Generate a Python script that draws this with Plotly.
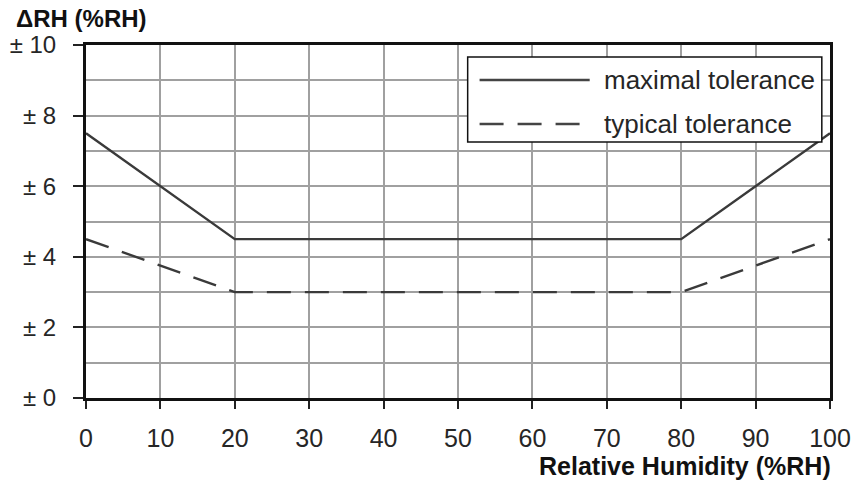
import plotly.graph_objects as go

rh = [0, 20, 80, 100]
maximal = [7.5, 4.5, 4.5, 7.5]
typical = [4.5, 3.0, 3.0, 4.5]
x_ticks = list(range(0, 101, 10))
y_ticks = [0, 2, 4, 6, 8, 10]
y_ticklabels = ["± 0", "± 2", "± 4", "± 6", "± 8", "± 10"]
series_names = ["maximal tolerance", "typical tolerance"]

FONT = "Liberation Sans, Arial, sans-serif"
LINE_COL = "#3a3a3a"
TXT = "#262626"

fig = go.Figure()
fig.add_trace(go.Scatter(x=rh, y=maximal, mode="lines", name=series_names[0],
                         line=dict(color=LINE_COL, width=2.4), showlegend=False))
fig.add_trace(go.Scatter(x=rh, y=typical, mode="lines", name=series_names[1],
                         line=dict(color=LINE_COL, width=2.4, dash="24px,14px"), showlegend=False))

fig.update_xaxes(range=[0, 100], tickvals=x_ticks, ticks="outside", ticklen=8, tickwidth=2,
                 tickcolor="#222", showline=True, linewidth=3, linecolor="#111", mirror=True,
                 showgrid=True, gridcolor="#a0a0a0", gridwidth=1.5, zeroline=False,
                 ticklabelstandoff=8, automargin=False,
                 tickfont=dict(family=FONT, size=25, color=TXT))
fig.update_yaxes(range=[0, 10], tickvals=y_ticks, ticktext=y_ticklabels, ticks="outside", ticklen=10,
                 tickwidth=2, tickcolor="#222", showline=True, linewidth=3, linecolor="#111",
                 mirror=True, showgrid=True, gridcolor="#a0a0a0", gridwidth=1.5, zeroline=False,
                 ticklabelstandoff=12, automargin=False,
                 minor=dict(dtick=1, showgrid=True, gridcolor="#a0a0a0", gridwidth=1.5, ticks=""),
                 tickfont=dict(family=FONT, size=24, color=TXT))

# manual legend
fig.add_shape(type="rect", xref="paper", yref="paper", x0=0.513, x1=0.989, y0=0.725, y1=0.966,
              line=dict(color="#111", width=1.5), fillcolor="white", layer="above")
fig.add_shape(type="line", xref="paper", yref="paper", x0=0.529, x1=0.677, y0=0.901, y1=0.901,
              line=dict(color="#444", width=2.4), layer="above")
fig.add_shape(type="line", xref="paper", yref="paper", x0=0.529, x1=0.677, y0=0.776, y1=0.776,
              line=dict(color="#444", width=2.4, dash="24px,14px"), layer="above")
fig.add_annotation(xref="paper", yref="paper", x=0.693, y=0.901, text=series_names[0],
                   showarrow=False, xanchor="left", yanchor="middle",
                   font=dict(family=FONT, size=26, color=TXT))
fig.add_annotation(xref="paper", yref="paper", x=0.693, y=0.776, text=series_names[1],
                   showarrow=False, xanchor="left", yanchor="middle",
                   font=dict(family=FONT, size=26, color=TXT))

# axis titles
fig.add_annotation(xref="paper", yref="paper", x=-0.097, y=1.0, yshift=27, text="<b>ΔRH (%RH)</b>",
                   showarrow=False, xanchor="left", yanchor="middle",
                   font=dict(family=FONT, size=24, color="#111"))
fig.add_annotation(xref="paper", yref="paper", x=1.004, y=0, yshift=-68, text="<b>Relative Humidity (%RH)</b>",
                   showarrow=False, xanchor="right", yanchor="middle",
                   font=dict(family=FONT, size=25, color="#111"))

fig.update_layout(width=854, height=482, margin=dict(l=86, r=24, t=45, b=84),
                  plot_bgcolor="white", paper_bgcolor="white", showlegend=False)

fig.write_html("out.html")
